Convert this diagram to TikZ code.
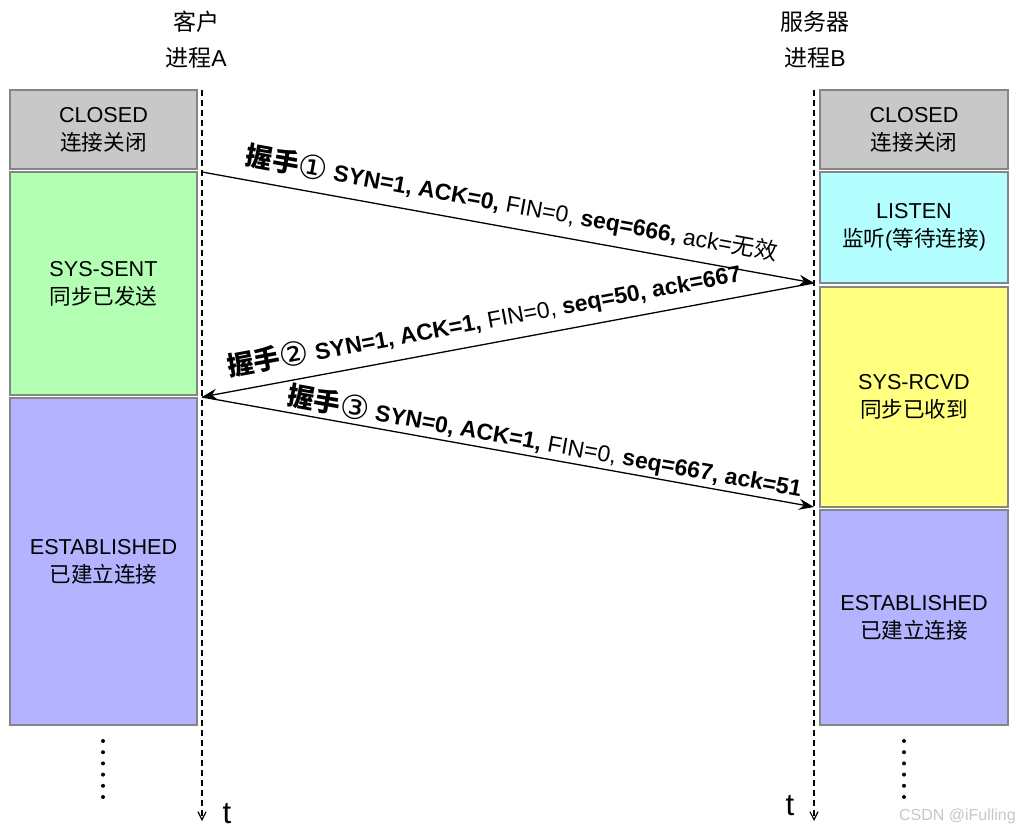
\documentclass[tikz,border=0pt]{standalone}
\usepackage{fontspec}
\setmainfont{Liberation Sans}
\newfontfamily\cjk{Noto Sans CJK SC}
\newfontfamily\circfont{DejaVu Sans}
\usetikzlibrary{arrows.meta}
\definecolor{cgray}{HTML}{C8C8C8}
\definecolor{cgreen}{HTML}{B3FFB3}
\definecolor{ccyan}{HTML}{B3FFFF}
\definecolor{cyellow}{HTML}{FFFF80}
\definecolor{cblue}{HTML}{B3B3FF}
\definecolor{cborder}{HTML}{858585}
\newcommand\hsk[1]{{\cjk\bfseries\fontsize{26.5}{26.5}\selectfont 握手}{\circfont\fontsize{33}{33}\selectfont\raisebox{-2pt}{#1}}}
\begin{document}
\begin{tikzpicture}[x=1pt,y=-1pt,
  box/.style={draw=cborder, line width=1.5pt, inner sep=0pt, align=center,
    font=\fontsize{21.6}{28}\selectfont},
  lbox/.style={box, minimum width=187pt},
  rbox/.style={box, minimum width=188pt},
  lifeline/.style={line width=1.2pt, dash pattern=on 6pt off 4pt,
    -{Straight Barb[length=8pt,width=8pt]}},
  msg/.style={line width=1.3pt, -{Stealth[length=15pt,width=11pt,inset=5pt]}},
  lbl/.style={inner sep=0pt, font=\fontsize{23}{23}\selectfont},
  head/.style={inner sep=0pt, font=\fontsize{23}{23}\selectfont},
  tlab/.style={inner sep=0pt, font=\fontsize{31}{31}\selectfont},
  dotmark/.style={fill=black, draw=none}]
\useasboundingbox (0,0) rectangle (1020,834);
\fill[white] (0,0) rectangle (1020,834);
% headers
\node[head] (hA1) at (196,22) {{\cjk 客户}};
\node[head] (hA2) at (196,58) {{\cjk 进程}A};
\node[head] (hB1) at (815,22) {{\cjk 服务器}};
\node[head] (hB2) at (815,58) {{\cjk 进程}B};
% left boxes
\node[lbox, fill=cgray, minimum height=79pt] (lc) at (103.5,129.5) {CLOSED\\{\cjk 连接关闭}};
\node[lbox, fill=cgreen, minimum height=223pt] (ls) at (103.5,283.5) {SYS-SENT\\{\cjk 同步已发送}};
\node[lbox, fill=cblue, minimum height=327pt] (le) at (103.5,561.5) {ESTABLISHED\\{\cjk 已建立连接}};
% right boxes
\node[rbox, fill=cgray, minimum height=79pt] (rc) at (914,129.5) {CLOSED\\{\cjk 连接关闭}};
\node[rbox, fill=ccyan, minimum height=111pt] (rl) at (914,227.5) {LISTEN\\{\cjk 监听}({\cjk 等待连接})};
\node[rbox, fill=cyellow, minimum height=220pt] (rs) at (914,397) {SYS-RCVD\\{\cjk 同步已收到}};
\node[rbox, fill=cblue, minimum height=215pt] (re) at (914,617.5) {ESTABLISHED\\{\cjk 已建立连接}};
% lifelines
\coordinate (Atop) at (202,90);
\coordinate (Abot) at (202,821);
\coordinate (Btop) at (814,90);
\coordinate (Bbot) at (814,821);
\draw[lifeline] (Atop) -- (Abot);
\draw[lifeline] (Btop) -- (Bbot);
\node[tlab] (tA) at (227,814) {t};
\node[tlab] (tB) at (790,806) {t};
% messages
\coordinate (A1) at (202,172);
\coordinate (B1) at (814,283);
\coordinate (A2) at (202,397);
\coordinate (B2) at (814,507);
\draw[msg] (A1) -- (B1);
\draw[msg] (B1) -- (A2);
\draw[msg] (A2) -- (B2);
\node[lbl, rotate=-10.3] (m1) at (512,204) {\hsk{①} \textbf{SYN=1, ACK=0,} FIN=0, \textbf{seq=666,} ack={\cjk 无效}};
\node[lbl, rotate=10.5] (m2) at (484,320) {\hsk{②} \textbf{SYN=1, ACK=1,} FIN=0, \textbf{seq=50, ack=667}};
\node[lbl, rotate=-10.2] (m3) at (545,442) {\hsk{③} \textbf{SYN=0, ACK=1,} FIN=0, \textbf{seq=667, ack=51}};
% dots
\foreach \k in {0,...,5} {
  \fill[dotmark] (103,741+11.2*\k) circle (2pt);
  \fill[dotmark] (904,741+11.2*\k) circle (2pt);
}
% watermark
\node[inner sep=0pt, text=black!22, font=\fontsize{16}{16}\selectfont, anchor=east] (wm) at (1016,816) {CSDN @iFulling};
\end{tikzpicture}
\end{document}
